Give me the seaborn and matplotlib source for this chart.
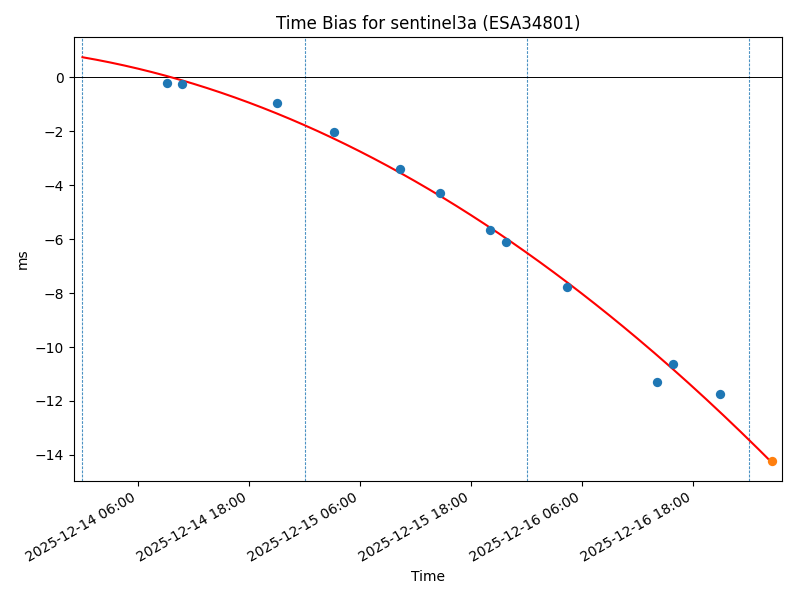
import numpy as np
import pandas as pd
import matplotlib
matplotlib.use("Agg")
import matplotlib.pyplot as plt
import matplotlib.dates as mdates
import seaborn as sns

obs_times = [
    "2025-12-14 09:08", "2025-12-14 10:45", "2025-12-14 21:00",
    "2025-12-15 03:11", "2025-12-15 10:19", "2025-12-15 14:39",
    "2025-12-15 20:03", "2025-12-15 21:45", "2025-12-16 04:23",
    "2025-12-16 14:06", "2025-12-16 15:50", "2025-12-16 20:55",
]
obs_bias = [-0.22, -0.25, -0.96, -2.03, -3.42, -4.28,
            -5.68, -6.12, -7.76, -11.29, -10.63, -11.75]

# Point de prédiction (orange)
pred_time = ["2025-12-17 02:30"]
pred_bias = [-14.22]

fit_start = "2025-12-14 00:00"
day_marks = ["2025-12-14", "2025-12-15", "2025-12-16", "2025-12-17"]
x_limits = ["2025-12-13 23:05", "2025-12-17 03:37"]

sat_name = "sentinel3a"
sat_id = "ESA34801"


def build_frames():
    obs = pd.DataFrame({"time": pd.to_datetime(obs_times), "bias": obs_bias})
    pred = pd.DataFrame({"time": pd.to_datetime(pred_time), "bias": pred_bias})
    return obs, pred


def fit_curve(obs, t_end):
    """Ajustement quadratique des mesures, évalué de fit_start à t_end."""
    t0 = pd.Timestamp(fit_start)
    hours = (obs["time"] - t0).dt.total_seconds() / 3600.0
    coefs = np.polyfit(hours, obs["bias"], 2)
    grid = pd.date_range(t0, t_end, periods=200)
    grid_h = (grid - t0).total_seconds() / 3600.0
    return pd.DataFrame({"time": grid, "bias": np.polyval(coefs, grid_h)})


if __name__ == "__main__":
    obs, pred = build_frames()
    curve = fit_curve(obs, pred["time"].iloc[0])

    fig, ax = plt.subplots(figsize=(8, 6), dpi=100)

    for d in day_marks:
        ax.axvline(pd.Timestamp(d), color="#1f77b4", linestyle=(0, (2.5, 1.2)),
                   linewidth=0.8, alpha=0.8)
    ax.axhline(0, color="black", linewidth=0.7)

    sns.lineplot(data=curve, x="time", y="bias", color="red", linewidth=1.5, ax=ax)
    sns.scatterplot(data=obs, x="time", y="bias", color="C0", s=45,
                    linewidth=0, ax=ax, zorder=3)
    sns.scatterplot(data=pred, x="time", y="bias", color="C1", s=45,
                    linewidth=0, ax=ax, zorder=3)

    ax.set_xlim(pd.to_datetime(x_limits))
    ax.set_ylim(-14.95, 1.48)
    ax.xaxis.set_major_locator(mdates.HourLocator(byhour=[6, 18]))
    ax.xaxis.set_major_formatter(mdates.DateFormatter("%Y-%m-%d %H:%M"))

    ax.set_title(f"Time Bias for {sat_name} ({sat_id})")
    ax.set_xlabel("Time")
    ax.set_ylabel("ms")
    fig.autofmt_xdate()
    fig.subplots_adjust(left=0.0925, right=0.978, top=0.938, bottom=0.199)
    fig.savefig("out.png")
